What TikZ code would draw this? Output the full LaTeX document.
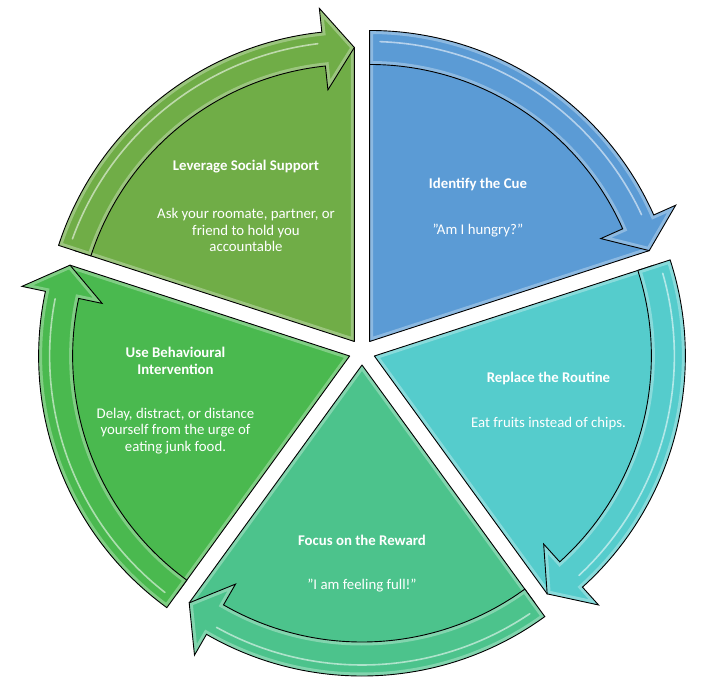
\documentclass[tikz,border=0pt]{standalone}
\usepackage{fontspec}
\setmainfont{Carlito}
\newcommand\dq{\char34\relax}
\definecolor{segA}{HTML}{5B9BD5}
\definecolor{segB}{HTML}{55CCCC}
\definecolor{segC}{HTML}{4CC38C}
\definecolor{segD}{HTML}{4AB94F}
\definecolor{segE}{HTML}{70AD47}
\tikzset{
  outline/.style={draw=black, line width=0.9pt, line join=round},
  glow/.style={draw=white, opacity=0.3, line width=7pt},
  shine/.style={draw=white, opacity=0.55, line width=1.6pt, line cap=round},
  titletext/.style={text=white, font=\bfseries\fontsize{14.8}{16.8}\selectfont, align=center, inner sep=0pt},
  bodytext/.style={text=white, font=\fontsize{14.8}{16.8}\selectfont, align=center, inner sep=0pt},
}
\begin{document}
\begin{tikzpicture}[x=1pt, y=1pt]
\useasboundingbox (-362,-346) rectangle (355,352);
\fill[white] (-362,-346) rectangle (355,352);
\foreach \t/\col in {54/segA, -18/segB, -90/segC, -162/segD, -234/segE}{
  \begin{scope}[shift={(\t:13)}]
    \pgfmathsetmacro\a{\t+36}
    \pgfmathsetmacro\b{\t-36}
    \pgfmathsetmacro\c{\t-30}
    \pgfmathsetmacro\d{\t+34}
    \pgfmathsetmacro\e{\t-29}
    \def\wedgepath{(0,0) -- (\a:294) arc[start angle=\a, end angle=\b, radius=294] -- cycle}
    \def\arrowpath{(\a:311) arc[start angle=\a, end angle=\c, radius=311] -- (\c:335) -- (\b:294) -- (\c:253) -- (\c:277) arc[start angle=\c, end angle=\a, radius=277] -- cycle}
    % wedge
    \fill[\col] \wedgepath;
    \begin{scope}
      \clip \wedgepath;
      \draw[glow] \wedgepath;
    \end{scope}
    \draw[outline] \wedgepath;
    % arrow
    \fill[\col] \arrowpath;
    \begin{scope}
      \clip \arrowpath;
      \draw[glow] \arrowpath;
      \draw[shine] (\d:300) arc[start angle=\d, end angle=\e, radius=300];
    \end{scope}
    \draw[outline, line join=miter] \arrowpath;
  \end{scope}
}
\node[titletext] (t1) at (116,168) {Identify the Cue};
\node[bodytext] (b1) at (116,121) {\dq Am I hungry?\dq};
\node[titletext] (t2) at (186.5,-26) {Replace the Routine};
\node[bodytext] (b2) at (186.5,-72) {Eat fruits instead of chips.};
\node[titletext] (t3) at (0,-188) {Focus on the Reward};
\node[bodytext] (b3) at (0,-234) {\dq I am feeling full!\dq};
\node[titletext] (t4) at (-186.5,-9) {Use Behavioural\\Intervention};
\node[bodytext] (b4) at (-186.5,-79) {Delay, distract, or distance\\yourself from the urge of\\eating junk food.};
\node[titletext] (t5) at (-116,185) {Leverage Social Support};
\node[bodytext] (b5) at (-116,122) {Ask your roomate, partner, or\\friend to hold you\\accountable};
\end{tikzpicture}
\end{document}
